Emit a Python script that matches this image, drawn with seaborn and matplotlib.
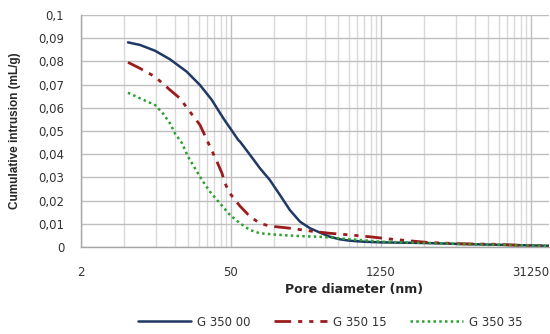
import numpy as np
import pandas as pd
import matplotlib
matplotlib.use("Agg")
import matplotlib.pyplot as plt
import matplotlib.ticker as ticker
import seaborn as sns

# === DATA ===
d_00 = [5.48, 7.09, 9.79, 13.5, 19.3, 25.7, 33.1, 42.4, 58.5, 60.7, 75.2, 93.2, 115, 143,
        177, 220, 272, 338, 418, 519, 643, 849, 1223, 3356, 6814, 13830, 28700, 45950]
v_00 = [0.0882, 0.0871, 0.0846, 0.0809, 0.0756, 0.0698, 0.0634, 0.0555, 0.0461, 0.0454,
        0.0397, 0.0339, 0.0289, 0.0224, 0.0159, 0.0109, 0.0081, 0.0062, 0.0044, 0.0033,
        0.0027, 0.0023, 0.0020, 0.0017, 0.0013, 0.0010, 0.0007, 0.0005]

d_15 = [5.48, 7.09, 9.79, 13.5, 16.7, 20.7, 25.7, 28.6, 31.9, 37.0, 41.2, 44.0, 48.9,
        54.5, 60.7, 75.2, 93.2, 115, 177, 272, 418, 643, 987, 1617, 3356, 6814, 13830,
        28700, 45950]
v_15 = [0.0796, 0.0770, 0.0734, 0.0677, 0.0641, 0.0583, 0.0526, 0.0480, 0.0432, 0.0368,
        0.0318, 0.0274, 0.0231, 0.0203, 0.0176, 0.0131, 0.0102, 0.0090, 0.0081, 0.0069,
        0.0059, 0.0052, 0.0044, 0.0033, 0.0020, 0.0014, 0.0012, 0.0006, 0.0005]

d_35 = [5.48, 7.09, 9.79, 11.6, 13.5, 15.0, 17.5, 19.9, 23.1, 26.8, 31.9, 39.5, 48.9,
        60.7, 75.2, 93.2, 143, 220, 338, 519, 796, 1223, 3356, 6814, 13830, 28700, 45950]
v_35 = [0.0665, 0.0641, 0.0612, 0.0576, 0.0533, 0.0490, 0.0447, 0.0389, 0.0339, 0.0289,
        0.0238, 0.0188, 0.0138, 0.0102, 0.0073, 0.0059, 0.0052, 0.0047, 0.0044, 0.0037,
        0.0030, 0.0023, 0.0017, 0.0013, 0.0010, 0.0007, 0.0005]

series_names = ["G 350 00", "G 350 15", "G 350 35"]
x_major = [2, 50, 1250, 31250]
x_major_labels = ["2", "50", "1250", "31250"]
y_ticks = [0, 0.01, 0.02, 0.03, 0.04, 0.05, 0.06, 0.07, 0.08, 0.09, 0.1]
y_tick_labels = ["0", "0,01", "0,02", "0,03", "0,04", "0,05", "0,06", "0,07",
                 "0,08", "0,09", "0,1"]

# === STYLE ===
sns.set_style("white")
plt.rcParams["font.family"] = ["DejaVu Sans"]

colors = ["#1f3864", "#9b1c1c", "#2ca02c"]
styles = ["-", (0, (6, 2.5, 1.5, 2.5, 1.5, 2.5)), (0, (1, 1.3))]
widths = [1.8, 2.0, 1.8]

fig = plt.figure(figsize=(5.5, 3.34), dpi=100)
ax = fig.add_axes([81 / 550, 1 - 247 / 334, 468 / 550, 232 / 334])

data = [(d_00, v_00), (d_15, v_15), (d_35, v_35)]
for (d, v), name, c, ls, lw in zip(data, series_names, colors, styles, widths):
    df = pd.DataFrame({"d": d, "v": v})
    sns.lineplot(data=df, x="d", y="v", ax=ax, color=c, linestyle=ls, lw=lw,
                 label=name, sort=False, estimator=None, legend=False)

# axes: log base 25
ax.set_xscale("log", base=25)
ax.set_xlim(2, 2 * 25 ** (468 / 150))
ax.set_ylim(0, 0.1)

minor = []
for top in x_major[1:] + [x_major[-1] * 25]:
    minor += [top * k / 10 for k in range(1, 10)]
ax.xaxis.set_major_locator(ticker.FixedLocator(x_major))
ax.xaxis.set_major_formatter(ticker.FixedFormatter(x_major_labels))
ax.xaxis.set_minor_locator(ticker.FixedLocator(minor))
ax.xaxis.set_minor_formatter(ticker.NullFormatter())
ax.set_yticks(y_ticks)
ax.set_yticklabels(y_tick_labels)

ax.grid(True, which="major", axis="both", color="#bfbfbf", lw=1.0)
ax.grid(True, which="minor", axis="x", color="#d9d9d9", lw=1.0)
ax.set_axisbelow(True)

for s in ["top", "right"]:
    ax.spines[s].set_visible(False)
for s in ["left", "bottom"]:
    ax.spines[s].set_color("#a6a6a6")
    ax.spines[s].set_linewidth(1.0)

ax.tick_params(axis="both", which="major", length=4, color="#a6a6a6",
               labelsize=8.5, labelcolor="#333333", direction="out")
ax.tick_params(axis="y", pad=8)
ax.tick_params(axis="x", pad=10)
ax.tick_params(axis="x", which="minor", length=0)
ax.set_xlabel("")
ax.set_ylabel("")

fig.text(15 / 550, 1 - 131 / 334, "Cumulative intrusion (mL/g)", rotation=90,
         ha="center", va="center", fontsize=8.5, fontweight="bold",
         family=["Liberation Sans", "DejaVu Sans"])
fig.text(354 / 550, 1 - 290 / 334, "Pore diameter (nm)", ha="center", va="center",
         fontsize=9, fontweight="bold")

handles = ax.get_lines()[:3]
fig.legend(handles, series_names, loc="center", bbox_to_anchor=(330 / 550, 1 - 322 / 334),
           ncol=3, frameon=False, fontsize=8.5, handlelength=4.5, columnspacing=2.0,
           handletextpad=0.5, labelcolor="#333333")

fig.savefig("out.png", dpi=100)
